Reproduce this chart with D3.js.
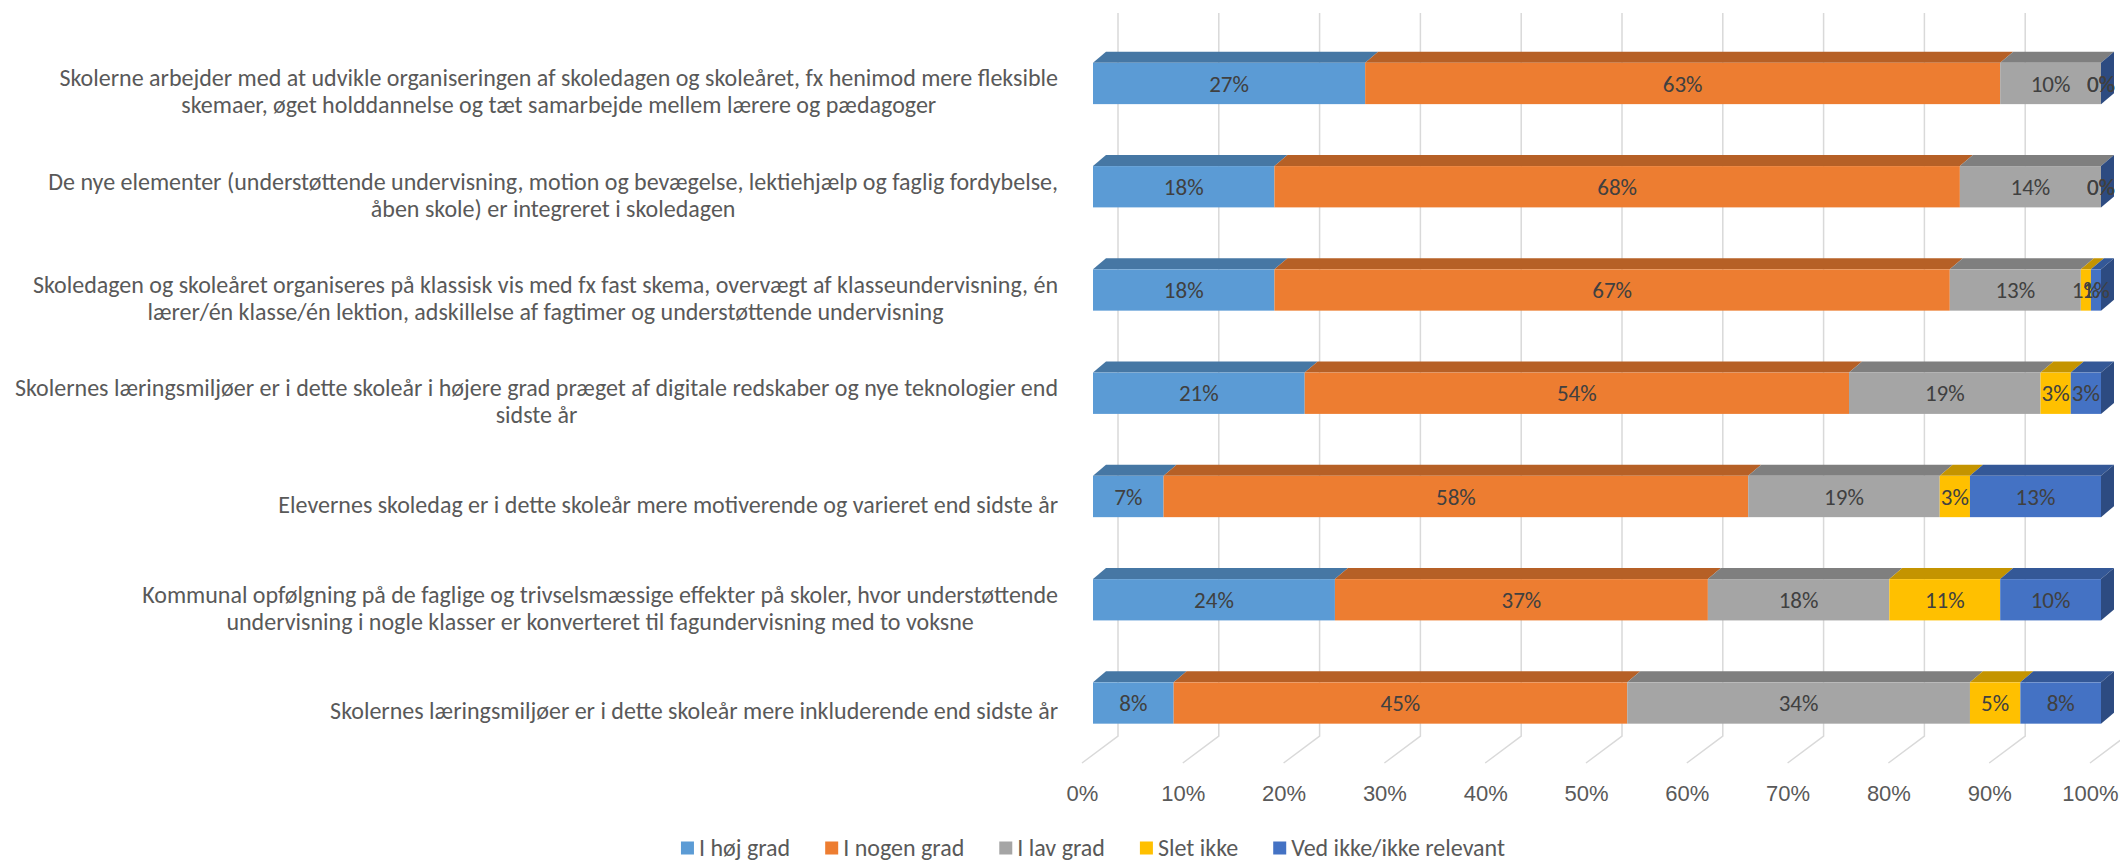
<!DOCTYPE html>
<html>
<head>
<meta charset="utf-8">
<script src="https://cdn.jsdelivr.net/npm/d3@7/dist/d3.min.js"></script>
<style>
  html, body { margin: 0; padding: 0; background: #fff; }
  svg { display: block; font-family: Carlito, Lato, "Liberation Sans", sans-serif; }
</style>
</head>
<body>
<div id="chart"></div>
<script>
// category labels, one entry per bar, lines as shown in the chart
const categories = [
  ["Skolerne arbejder med at udvikle organiseringen af skoledagen og skoleåret, fx henimod mere fleksible",
   "skemaer, øget holddannelse og tæt samarbejde mellem lærere og pædagoger"],
  ["De nye elementer (understøttende undervisning, motion og bevægelse, lektiehjælp og faglig fordybelse,",
   "åben skole) er integreret i skoledagen"],
  ["Skoledagen og skoleåret organiseres på klassisk vis med fx fast skema, overvægt af klasseundervisning, én",
   "lærer/én klasse/én lektion, adskillelse af fagtimer og understøttende undervisning"],
  ["Skolernes læringsmiljøer er i dette skoleår i højere grad præget af digitale redskaber og nye teknologier end",
   "sidste år"],
  ["Elevernes skoledag er i dette skoleår mere motiverende og varieret end sidste år"],
  ["Kommunal opfølgning på de faglige og trivselsmæssige effekter på skoler, hvor understøttende",
   "undervisning i nogle klasser er konverteret til fagundervisning med to voksne"],
  ["Skolernes læringsmiljøer er i dette skoleår mere inkluderende end sidste år"]
];

const seriesNames = ["I høj grad", "I nogen grad", "I lav grad", "Slet ikke", "Ved ikke/ikke relevant"];
const seriesColors = ["#5B9BD5", "#ED7D31", "#A5A5A5", "#FFC000", "#4472C4"];

const hojGrad   = [27, 18, 18, 21,  7, 24,  8];
const nogenGrad = [63, 68, 67, 54, 58, 37, 45];
const lavGrad   = [10, 14, 13, 19, 19, 18, 34];
const sletIkke  = [ 0,  0,  1,  3,  3, 11,  5];
const vedIkke   = [ 0,  0,  1,  3, 13, 10,  8];

const tickValues = [0, 10, 20, 30, 40, 50, 60, 70, 80, 90, 100];

const W = 2120, H = 863;
const series = [hojGrad, nogenGrad, lavGrad, sletIkke, vedIkke];

// 3d offsets: bar depth, back wall and floor front relative to bar front
const DX = 13, DY = 11;
const WALL_DX = 25, FLOOR_DX = -11;
const wallTop = 13, wallBottom = 736, floorFront = 763;

const textSize = 24, axisSize = 22, valueSize = 23;
const textGrey = "#595959";

const svg = d3.select("#chart").append("svg").attr("width", W).attr("height", H);

const x = d3.scaleLinear().domain([0, 100]).range([1093, 2101]);
const y = d3.scaleBand().domain(d3.range(categories.length))
  .range([31.85, 754.65]).paddingInner(0.6).paddingOuter(0.3);

const shade = (c, k) => { const r = d3.rgb(c); return d3.rgb(r.r * k, r.g * k, r.b * k).formatHex(); };

// back wall gridlines + floor lines
const grid = svg.append("g").attr("fill", "none").attr("stroke", "#D9D9D9").attr("stroke-width", 1.5);
grid.selectAll("path").data(tickValues).join("path")
  .attr("d", d => {
    const p = d3.path();
    p.moveTo(x(d) + WALL_DX, wallTop);
    p.lineTo(x(d) + WALL_DX, wallBottom);
    p.lineTo(x(d) + FLOOR_DX, floorFront);
    return p.toString();
  });

// x axis labels at the floor front
const xFloor = x.copy().range(x.range().map(v => v + FLOOR_DX));
const axis = svg.append("g").attr("transform", `translate(0,${floorFront + 22})`)
  .call(d3.axisBottom(xFloor).tickValues(tickValues).tickSize(0).tickPadding(0).tickFormat(d => d + "%"));
axis.select(".domain").remove();
axis.selectAll("text").attr("font-size", axisSize).attr("font-family", null).attr("fill", textGrey);

// stacked segments
const rows = categories.map((c, i) => {
  let acc = 0;
  return series.map((s, k) => {
    const seg = { i, k, v: s[i], x0: acc, x1: acc + s[i] };
    acc += s[i];
    return seg;
  });
});

const bars = svg.append("g").selectAll("g").data(rows).join("g");

bars.each(function (segs, i) {
  const g = d3.select(this);
  const yt = y(i), yb = y(i) + y.bandwidth();
  segs.forEach(s => {
    const a = x(s.x0), b = x(s.x1), col = seriesColors[s.k];
    g.append("path")
      .attr("d", `M${a},${yt}L${a + DX},${yt - DY}L${b + DX},${yt - DY}L${b},${yt}Z`)
      .attr("fill", shade(col, 0.77));
    g.append("rect").attr("x", a).attr("y", yt).attr("width", b - a).attr("height", yb - yt).attr("fill", col);
  });
  // right side face, coloured by the last series
  const e = x(100);
  g.append("path")
    .attr("d", `M${e},${yt}L${e + DX},${yt - DY}L${e + DX},${yb - DY}L${e},${yb}Z`)
    .attr("fill", shade(seriesColors[seriesColors.length - 1], 0.66));
  segs.forEach(s => {
    g.append("text")
      .attr("x", (x(s.x0) + x(s.x1)) / 2)
      .attr("y", (yt + yb) / 2)
      .attr("dy", "0.35em")
      .attr("text-anchor", "middle")
      .attr("font-size", valueSize)
      .attr("fill", "#404040")
      .text(s.v + "%");
  });
});

// category labels: block right-aligned, lines centred inside the block
const labelRight = 1058, lineH = 27;
const cats = svg.append("g").attr("font-size", textSize).attr("fill", textGrey);
categories.forEach((lines, i) => {
  const cy = y(i) + y.bandwidth() / 2 + 8;
  const g = cats.append("g");
  const t = g.selectAll("text").data(lines).join("text")
    .attr("y", (d, j) => cy + (j - (lines.length - 1) / 2) * lineH)
    .attr("dy", "0.35em")
    .attr("text-anchor", "middle")
    .text(d => d);
  const wMax = d3.max(t.nodes(), n => n.getComputedTextLength());
  t.attr("x", labelRight - wMax / 2);
});

// legend, centred under the plot
const legendY = 848, sq = 13, sqGap = 5, itemGap = 35;
const legend = svg.append("g").attr("font-size", textSize).attr("fill", textGrey);
const items = legend.selectAll("g").data(seriesNames).join("g");
items.append("rect").attr("width", sq).attr("height", sq).attr("y", legendY - sq / 2)
  .attr("fill", (d, k) => seriesColors[k]);
items.append("text").attr("x", sq + sqGap).attr("y", legendY).attr("dy", "0.35em").text(d => d);
const widths = items.nodes().map(n => sq + sqGap + d3.select(n).select("text").node().getComputedTextLength());
const total = d3.sum(widths) + itemGap * (widths.length - 1);
let lx = 1093 - total / 2;
items.attr("transform", (d, k) => {
  const t = `translate(${lx},0)`;
  lx += widths[k] + itemGap;
  return t;
});
</script>
</body>
</html>
